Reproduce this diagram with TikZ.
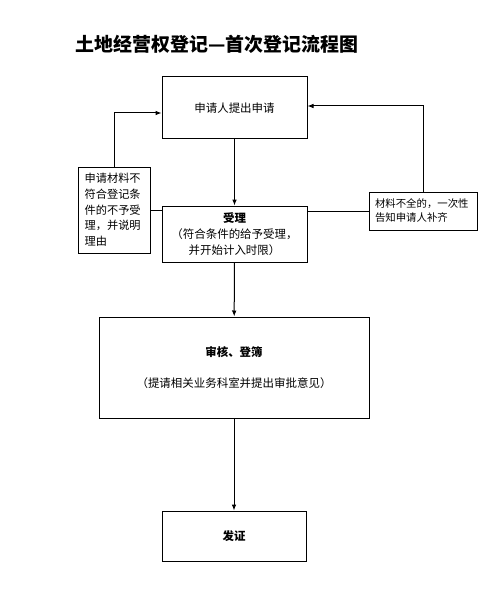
\documentclass[tikz,border=0pt]{standalone}
\usepackage{fontspec}
\setmainfont{Noto Sans CJK SC}
\usepackage{tikz}
\usetikzlibrary{arrows.meta, positioning, calc}

\begin{document}
\begin{tikzpicture}[
  x=0.75pt, y=-0.75pt,
  box/.style={draw, rectangle, align=center, font=\fontsize{8.6pt}{12pt}\selectfont, line width=0.75pt},
  note/.style={draw, rectangle, align=left, font=\fontsize{8.4pt}{11.8pt}\selectfont, line width=0.75pt, inner sep=0pt},
  arr/.style={-{Latex[length=4.5pt, width=3.5pt]}, line width=0.75pt},
  lnk/.style={line width=0.75pt}
]
\useasboundingbox (0,0) rectangle (491,613);

\node[anchor=west, font=\fontsize{14.2pt}{16pt}\selectfont\bfseries] (title) at (71,44) {土地经营权登记—首次登记流程图};

\node[box, minimum width=108.75pt, minimum height=46.5pt] (apply) at (234.5,108) {申请人提出申请};
\node[box, minimum width=108.75pt, minimum height=42pt] (accept) at (234.5,234) {\textbf{受理}\\（符合条件的给予受理，\\并开始计入时限）};
\node[note, minimum width=54pt, minimum height=64.5pt, text width=44pt] (reject) at (114,210) {申请材料不\\符合登记条\\件的不予受\\理，并说明\\理由};
\node[note, minimum width=81pt, minimum height=28.5pt, text width=72pt, font=\fontsize{7.8pt}{10.5pt}\selectfont] (supp) at (423,211) {材料不全的，一次性\\告知申请人补齐};
\node[box, minimum width=202.5pt, minimum height=75.75pt] (review) at (234,367.5) {\textbf{审核、登簿}\\[11pt]（提请相关业务科室并提出审批意见）};
\node[box, minimum width=108pt, minimum height=37.5pt] (cert) at (234,536) {\textbf{发证}};

\draw[arr] (apply) -- (accept);
\draw[arr] (accept) -- (review);
\draw[arr] (review) -- (cert);
\draw[lnk] (reject.east) -- (reject.east -| accept.west);
\draw[arr] (reject.north) |- ([yshift=-3.75pt]apply.west);
\draw[lnk] (supp.west) -- (supp.west -| accept.east);
\draw[arr] (supp.north) |- ([yshift=1.5pt]apply.east);
\end{tikzpicture}
\end{document}
